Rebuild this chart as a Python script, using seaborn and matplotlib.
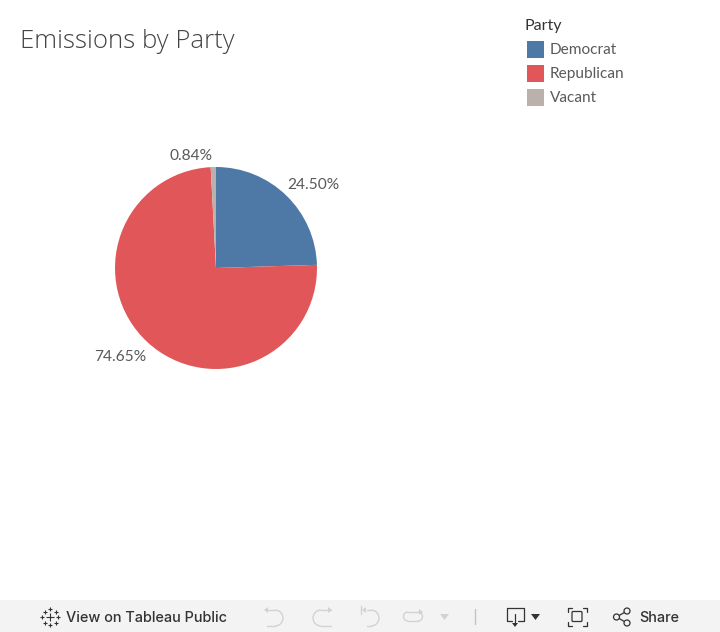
import matplotlib
matplotlib.use("Agg")
import matplotlib.pyplot as plt
from matplotlib.patches import Rectangle, Circle, Polygon, FancyBboxPatch, Arc
import seaborn as sns

parties = ["Democrat", "Republican", "Vacant"]
shares = [24.50, 74.65, 0.84]
share_labels = ["24.50%", "74.65%", "0.84%"]
colors = ["#4e79a7", "#e15759", "#bab0ac"]
title = "Emissions by Party"
legend_title = "Party"

sns.set_theme(style="white")
plt.rcParams["font.family"] = ["Lato", "DejaVu Sans"]
W, H = 720, 632
fig = plt.figure(figsize=(W / 100, H / 100), dpi=100, facecolor="white")

ov = fig.add_axes([0, 0, 1, 1], zorder=3)
ov.set_xlim(0, W)
ov.set_ylim(H, 0)
ov.axis("off")
ov.patch.set_alpha(0)

# pie
cx, cy, r = 216, 268, 101
pie_ax = fig.add_axes([(cx - r) / W, 1 - (cy + r) / H, 2 * r / W, 2 * r / H], zorder=2)
palette = sns.color_palette(colors)
pie_ax.pie(shares, colors=palette, startangle=90, counterclock=False, radius=1.0,
           wedgeprops=dict(linewidth=0), center=(0, 0))
pie_ax.set_xlim(-1, 1)
pie_ax.set_ylim(-1, 1)

# text
text_c = "#5a5a5a"
ov.text(20, 41.5, title, fontsize=18.5, color="#444444", va="center", ha="left",
        family=["Open Sans", "DejaVu Sans"], fontweight="light")
ov.text(287.5, 185, share_labels[0], fontsize=11.2, color=text_c, va="center", ha="left")
ov.text(94.5, 357, share_labels[1], fontsize=11.2, color=text_c, va="center", ha="left")
ov.text(170, 156, share_labels[2], fontsize=11.2, color=text_c, va="center", ha="left")

# legend
ov.text(524, 26, legend_title, fontsize=11.5, color="#333333", va="center", ha="left")
for name, c, y in zip(parties, colors, [49, 73, 97]):
    ov.add_patch(Rectangle((527, y - 8.5), 17, 17, facecolor=c, edgecolor="none"))
    ov.text(550, y + 1, name, fontsize=11.1, color=text_c, va="center", ha="left")

# toolbar
bar = "#f3f3f3"
ov.add_patch(Rectangle((0, 600), W, 32, facecolor=bar, edgecolor="none"))
dark = "#333333"
light = "#d2d2d2"
ov.text(66, 617.5, "View on Tableau Public", fontsize=10.4, color=dark, va="center", ha="left",
        family=["Inter", "DejaVu Sans"], fontweight="medium")
ov.text(639, 617.5, "Share", fontsize=10.4, color=dark, va="center", ha="left",
        family=["Inter", "DejaVu Sans"], fontweight="medium")

# Tableau cross logo
for x, y, s in [(50, 617, 4), (50, 609, 2.4), (50, 625, 2.4), (42, 617, 2.4), (58, 617, 2.4),
                (44.5, 611.5, 2), (55.5, 611.5, 2), (44.5, 622.5, 2), (55.5, 622.5, 2)]:
    ov.plot([x - s, x + s], [y, y], color=dark, lw=0.8, solid_capstyle="butt")
    ov.plot([x, x], [y - s, y + s], color=dark, lw=0.8, solid_capstyle="butt")

# undo / redo
def curve(x0, x1, y0, flip, h=16):
    ov.plot([x0, x1], [y0, y0], color=light, lw=1)
    ov.plot([x0, x1], [y0 + h, y0 + h], color=light, lw=1)
    ov.add_patch(Arc((x1, y0 + h / 2), h, h, theta1=90 if flip else -90, theta2=270 if flip else 90,
                     color=light, lw=1))

curve(267, 275, 610, False)
ov.add_patch(Polygon([[264, 610], [268, 607], [268, 613]], facecolor=light, edgecolor="none"))
curve(331, 321, 610, True)
ov.add_patch(Polygon([[332, 610], [328, 607], [328, 613]], facecolor=light, edgecolor="none"))
curve(367, 371, 610, False)
ov.plot([361, 361], [606, 614], color=light, lw=1)
ov.add_patch(Polygon([[362, 610], [366, 607], [366, 613]], facecolor=light, edgecolor="none"))
curve(418, 408, 612, True, h=9)
ov.add_patch(Arc((418, 616.5), 9, 9, theta1=-90, theta2=90, color=light, lw=1))
ov.add_patch(Polygon([[423, 612], [419, 609], [419, 615]], facecolor=light, edgecolor="none"))
ov.add_patch(Polygon([[440, 614], [449, 614], [444.5, 620]], facecolor=light, edgecolor="none"))
ov.plot([474.5, 474.5], [609, 624], color="#c4c4c4", lw=1)

# download
ov.plot([512, 507, 507, 524, 524, 518], [620.5, 620.5, 608, 608, 620.5, 620.5], color=dark, lw=0.9)
ov.plot([515, 515], [614, 624], color=dark, lw=0.9)
ov.add_patch(Polygon([[512, 623], [518, 623], [515, 627]], facecolor=dark, edgecolor="none"))
ov.add_patch(Polygon([[531, 614], [540, 614], [535.5, 620]], facecolor=dark, edgecolor="none"))

# fullscreen
ov.add_patch(FancyBboxPatch((572, 611.5), 10, 10, boxstyle="round,pad=0,rounding_size=1",
                            facecolor="none", edgecolor=dark, lw=0.9))
for (x, y, dx, dy) in [(567.5, 607.5, 1, 1), (586.5, 607.5, -1, 1), (567.5, 626, 1, -1), (586.5, 626, -1, -1)]:
    ov.plot([x + 4 * dx, x, x], [y, y, y + 4 * dy], color=dark, lw=0.9)

# share
pts = [(616.5, 617), (627, 611), (627, 623)]
ov.plot([pts[1][0], pts[0][0], pts[2][0]], [pts[1][1], pts[0][1], pts[2][1]], color=dark, lw=0.9)
for p in pts:
    ov.add_patch(Circle(p, 3, facecolor=bar, edgecolor=dark, lw=0.9, zorder=4))

fig.savefig("out.png", dpi=100, facecolor="white")
